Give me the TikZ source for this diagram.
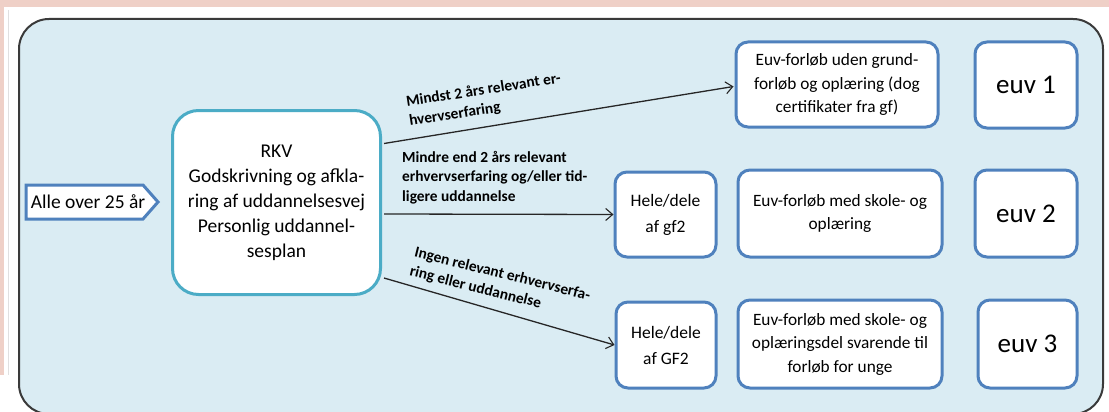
\documentclass[tikz,border=0pt]{standalone}
\usepackage{fontspec}
\setmainfont{Carlito}
\usetikzlibrary{arrows.meta,calc}
\definecolor{pinkbg}{HTML}{EFD0C7}
\definecolor{panel}{HTML}{DAECF3}
\definecolor{teal}{HTML}{4BACC6}
\definecolor{boxblue}{HTML}{4F81BD}
\definecolor{frame}{HTML}{3A3A3A}
\tikzset{
  bluebox/.style={draw=boxblue, line width=3pt, fill=white, rounded corners=12pt, align=center, inner sep=0pt},
  conn/.style={line width=1.3pt, draw=black!85, -{Straight Barb[length=7pt,width=12pt,line width=1.1pt]}},
  lbl/.style={font=\fontsize{15.4}{19.5}\selectfont\bfseries, align=left, inner sep=0pt},
}
\begin{document}
\begin{tikzpicture}[x=1pt,y=-1pt]
\useasboundingbox (0,0) rectangle (1109,412);
\fill[white] (0,0) rectangle (1109,412);
\fill[pinkbg] (0,0) rectangle (1109,7);
\fill[pinkbg] (0,0) rectangle (3.5,375);
\draw[black!12, line width=0.6pt] (8,10) -- (8,375);
% outer panel
\begin{scope}
\clip (0,0) rectangle (1109,412);
\draw[frame, fill=panel, line width=2pt, rounded corners=30pt] (19,19) rectangle (1103,414);
\end{scope}
% start arrow shape
\path[draw=boxblue, line width=3pt, fill=white, line join=miter]
  (26,185) -- (143,185) -- (158,202) -- (143,219) -- (26,219) -- cycle;
\node[font=\fontsize{19.5}{22}\selectfont, inner sep=0pt] (alle) at (88,202) {Alle over 25 år};
% RKV box
\node[draw=teal, line width=3pt, fill=white, rounded corners=26pt, minimum width=208pt, minimum height=184pt, align=center, inner sep=0pt, font=\fontsize{19.5}{25}\selectfont] (rkv) at (276.5,202.5)
  {RKV\\Godskrivning og afkla-\\ring af uddannelsesvej\\Personlig uddannel-\\sesplan};
% right boxes
\node[bluebox, minimum width=202pt, minimum height=85pt, font=\fontsize{17.3}{23.5}\selectfont] (e1) at (837,84.5)
  {Euv-forløb uden grund-\\forløb og oplæring (dog\\certifikater fra gf)};
\node[bluebox, minimum width=102pt, minimum height=86pt, font=\fontsize{27}{30}\selectfont] (v1) at (1026,85) {euv 1};
\node[bluebox, minimum width=101pt, minimum height=85pt, font=\fontsize{17.5}{26}\selectfont] (h2) at (665.5,214.5) {Hele/dele\\af gf2};
\node[bluebox, minimum width=204pt, minimum height=87pt, font=\fontsize{17.3}{23.5}\selectfont] (e2) at (840,213.5)
  {Euv-forløb med skole- og\\oplæring};
\node[bluebox, minimum width=102pt, minimum height=87pt, font=\fontsize{27}{30}\selectfont] (v2) at (1026,213.5) {euv 2};
\node[bluebox, minimum width=100pt, minimum height=86pt, font=\fontsize{17.5}{26}\selectfont] (h3) at (666,345) {Hele/dele\\af GF2};
\node[bluebox, minimum width=204pt, minimum height=88pt, font=\fontsize{17.3}{23.5}\selectfont] (e3) at (840,344)
  {Euv-forløb med skole- og\\oplæringsdel svarende til\\forløb for unge};
\node[bluebox, minimum width=99pt, minimum height=88pt, font=\fontsize{27}{30}\selectfont] (v3) at (1027.5,344) {euv 3};
% connectors
\coordinate (s1) at ($(rkv.east)+(2,-59)$);
\coordinate (s2) at ($(rkv.east)+(2,11.5)$);
\coordinate (s3) at ($(rkv.east)+(2,75.5)$);
\draw[conn] (s1) -- ($(e1.west)+(-1,2)$);
\draw[conn] (s2) -- (h2.west);
\draw[conn] (s3) -- (h3.west);
% labels
\node[lbl, rotate=8.8] at (485,100) {Mindst 2 års relevant er-\\hvervserfaring};
\node[lbl, anchor=north west] at (402,151) {Mindre end 2 års relevant\\erhvervserfaring og/eller tid-\\ligere uddannelse};
\node[lbl, rotate=-14] at (500,284) {Ingen relevant erhvervserfa-\\ring eller uddannelse};
\end{tikzpicture}
\end{document}
